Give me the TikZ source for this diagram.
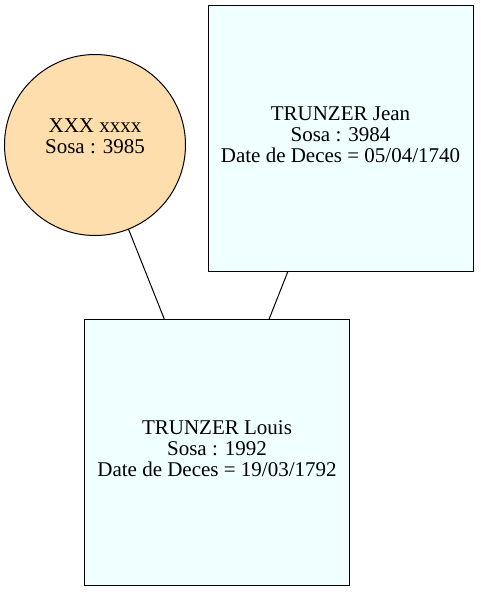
\documentclass[tikz,border=0pt]{standalone}
\usepackage{fontspec}
\setmainfont{Liberation Serif}
\definecolor{boxfill}{HTML}{F0FFFF}
\definecolor{circfill}{HTML}{FFDEAD}
\begin{document}
\begin{tikzpicture}[
  x=1pt, y=-1pt,
  person/.style={draw=black, fill=boxfill, line width=1pt, outer sep=0pt,
    minimum width=265pt, minimum height=266pt, align=center, text depth=7pt,
    font=\fontsize{21}{21}\selectfont},
  unknown/.style={draw=black, fill=circfill, circle, line width=1pt, outer sep=0pt,
    minimum size=181pt, align=center, text depth=17pt,
    font=\fontsize{21}{21}\selectfont},
  link/.style={line width=1pt, black},
]
\useasboundingbox (0,0) rectangle (480,592);

% Ancestors
\node[unknown] (xxx) at (95,145) {XXX xxxx\\Sosa : 3985};
\node[person] (jean) at (340.5,138) {TRUNZER Jean\\Sosa : 3984\\Date de Deces = 05/04/1740};

% Child
\node[person] (louis) at (217,452) {TRUNZER Louis\\Sosa : 1992\\Date de Deces = 19/03/1792};

% Links
\draw[link] (xxx) -- (louis);
\draw[link] (jean) -- (louis);

\end{tikzpicture}
\end{document}
